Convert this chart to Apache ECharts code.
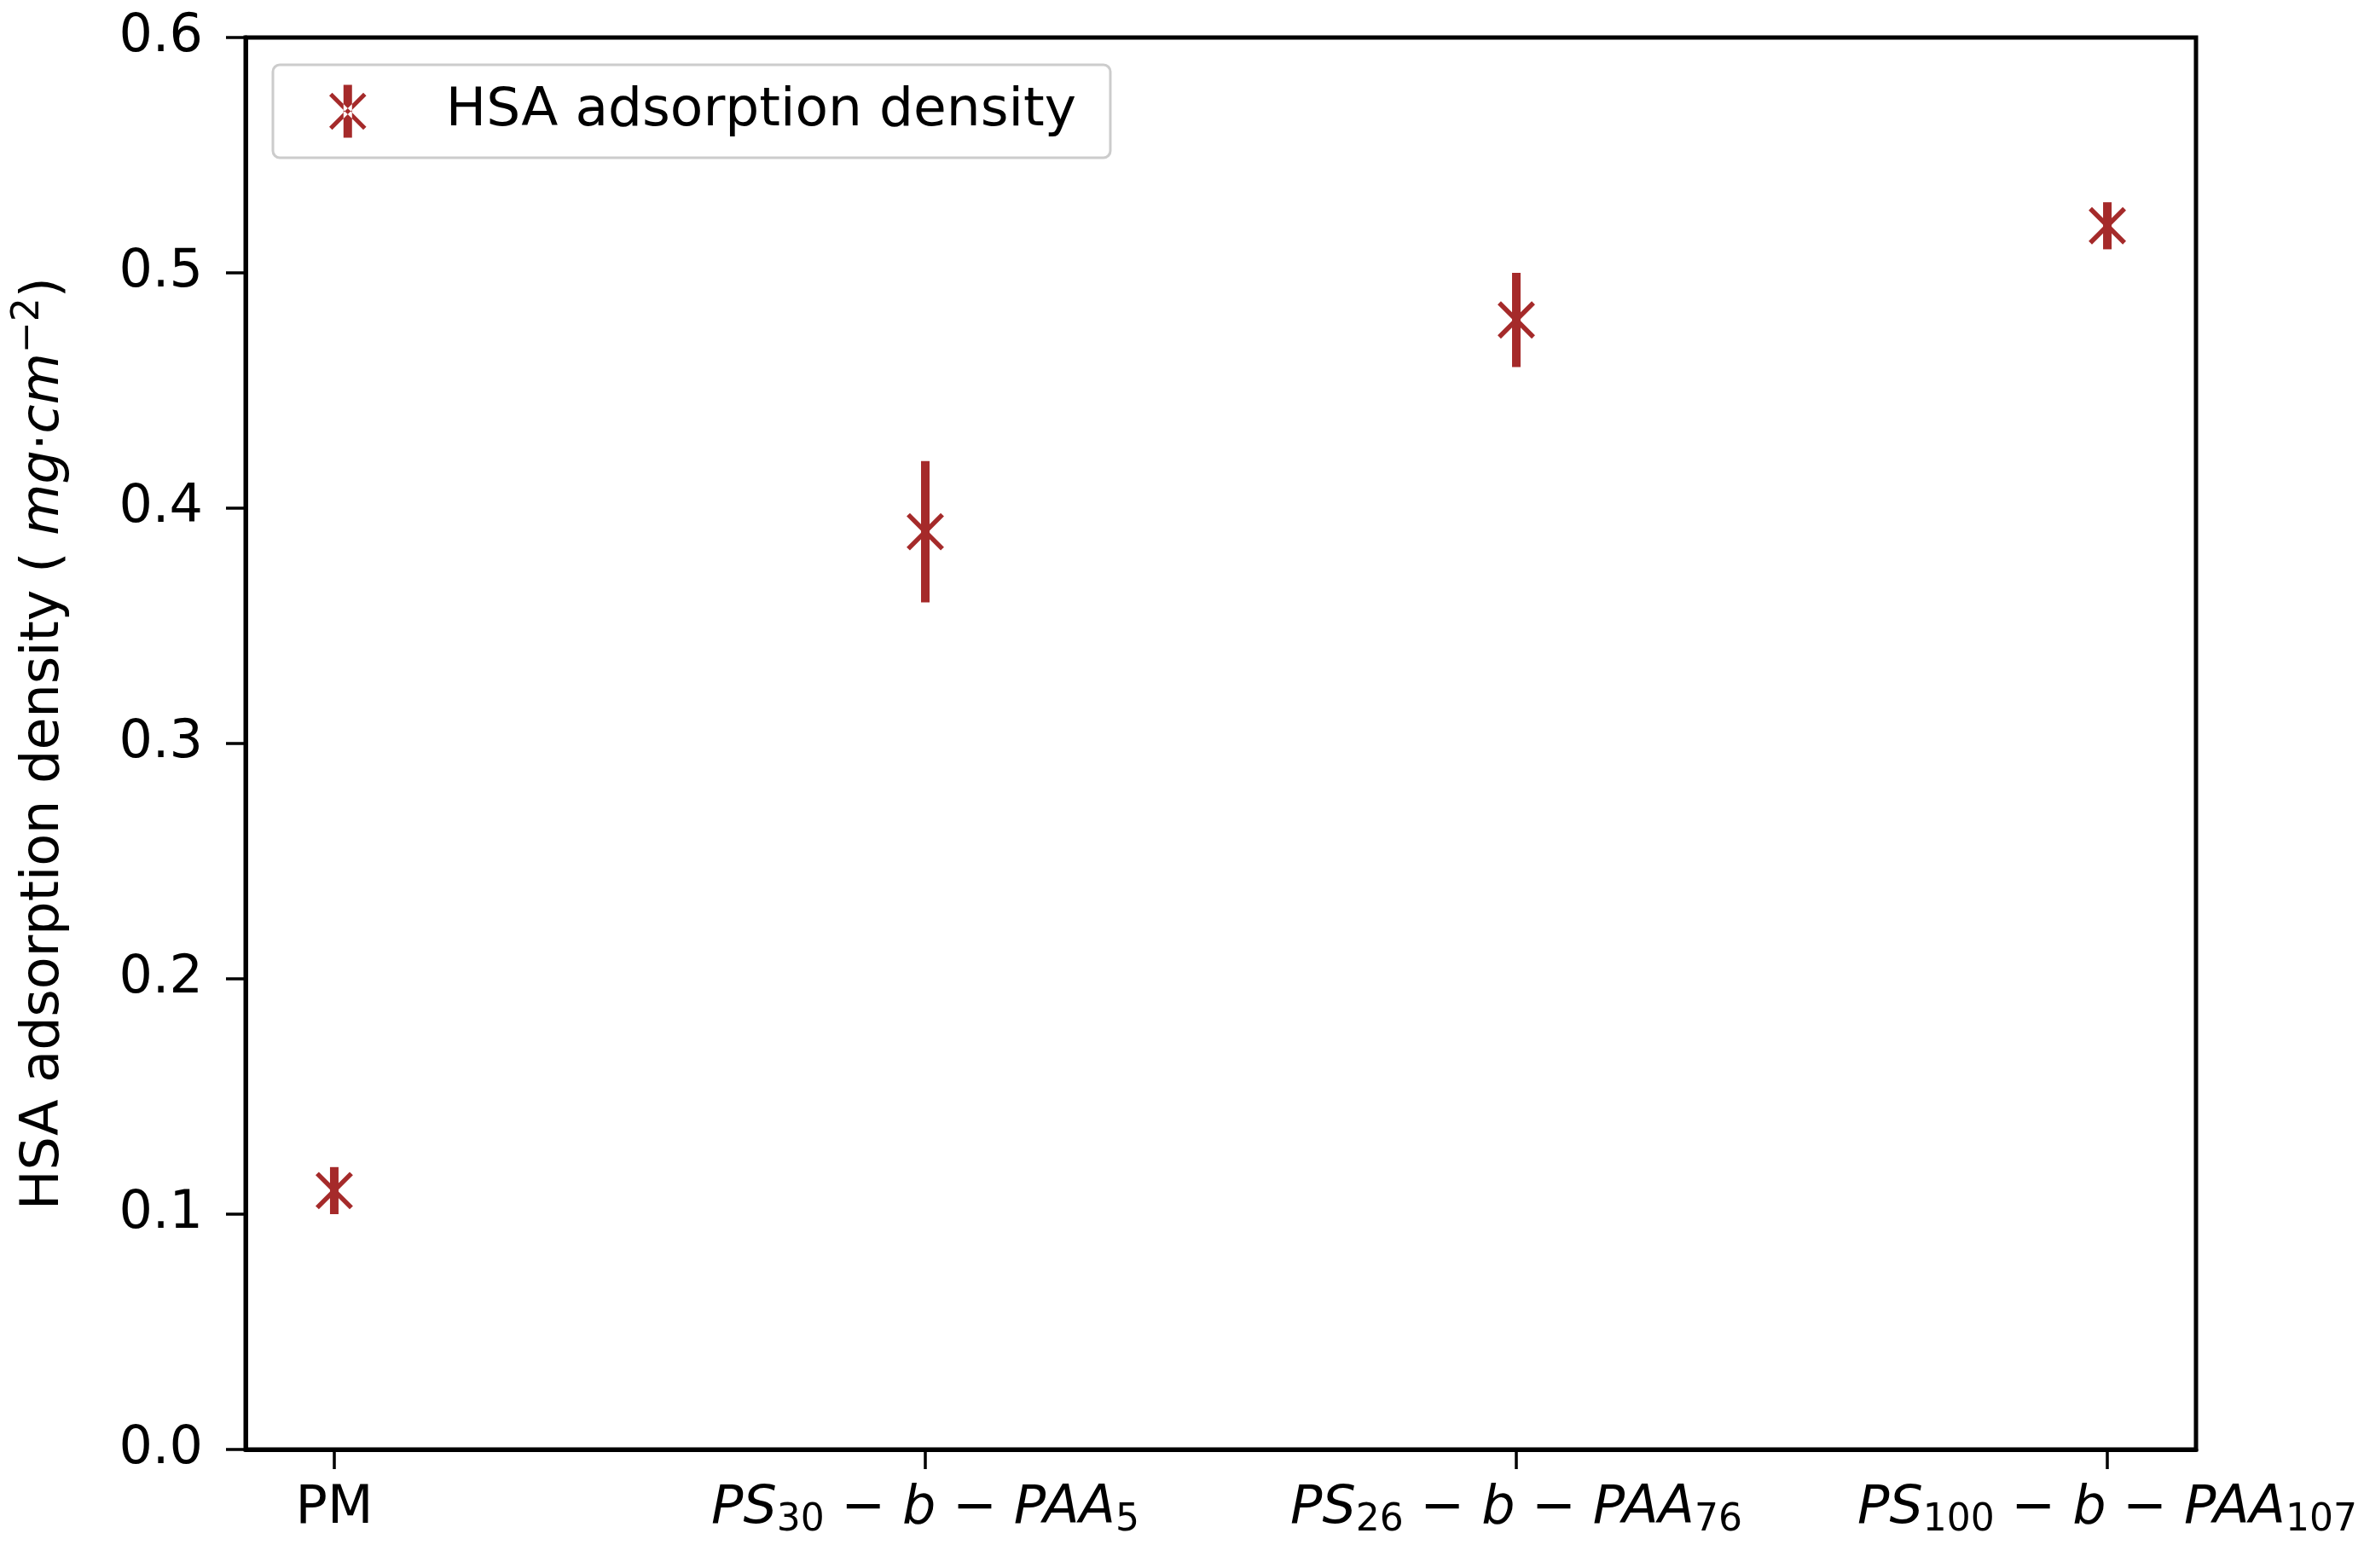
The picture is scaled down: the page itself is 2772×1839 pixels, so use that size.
<!DOCTYPE html>
<html>
<head>
<meta charset="utf-8">
<script src="https://cdn.jsdelivr.net/npm/echarts@6/dist/echarts.min.js"></script>
<style>
html,body{margin:0;padding:0;background:#fff;}
#c{width:2772px;height:1839px;}
</style>
</head>
<body>
<div id="c"></div>
<script>
// ---- data ----
var categories = ['PM', 'PS30-b-PAA5', 'PS26-b-PAA76', 'PS100-b-PAA107'];
var categoryLabels = [
  '{rm|PM}',
  '{it|PS}{sub|30}{rm| − }{it|b}{rm| − }{it|PAA}{sub|5}',
  '{it|PS}{sub|26}{rm| − }{it|b}{rm| − }{it|PAA}{sub|76}',
  '{it|PS}{sub|100}{rm| − }{it|b}{rm| − }{it|PAA}{sub|107}'
];
var density = [0.11, 0.39, 0.48, 0.52];
var densityErr = [0.01, 0.03, 0.02, 0.01];
var yTicks = [0, 0.1, 0.2, 0.3, 0.4, 0.5, 0.6];
var seriesName = 'HSA adsorption density';

var COLOR = '#a52a2a';
var FONT = 'DejaVu Sans';
var FS = 62;

// legend icon path: X with vertical bar (filled polygons)
function strokePoly(x1, y1, x2, y2, w) {
  var dx = x2 - x1, dy = y2 - y1, l = Math.sqrt(dx*dx + dy*dy);
  var px = -dy / l * w / 2, py = dx / l * w / 2;
  return 'M' + (x1+px) + ',' + (y1+py) + 'L' + (x2+px) + ',' + (y2+py) +
         'L' + (x2-px) + ',' + (y2-py) + 'L' + (x1-px) + ',' + (y1-py) + 'Z';
}
var iconPath = 'path://' +
  'M17,0L27,0L27,62L17,62Z' +
  strokePoly(2, 11, 42, 51, 5) + strokePoly(42, 11, 2, 51, 5);

var data = density.map(function (v, i) { return [i, v, densityErr[i]]; });

var chart = echarts.init(document.getElementById('c'), null, {renderer: 'canvas'});
chart.setOption({
  animation: false,
  backgroundColor: '#fff',
  textStyle: {fontFamily: FONT},
  grid: {
    left: 288, right: 197, top: 44, bottom: 139,
    show: true, borderColor: '#000', borderWidth: 5, backgroundColor: 'transparent',
    containLabel: false
  },
  legend: {
    left: 320, top: 76,
    orient: 'horizontal',
    data: [{name: seriesName, icon: iconPath}],
    itemWidth: 44, itemHeight: 62,
    padding: [23, 40, 23, 66],
    backgroundColor: 'rgba(255,255,255,0.8)',
    borderColor: '#cccccc', borderWidth: 3, borderRadius: 8,
    itemStyle: {color: COLOR},
    formatter: function (n) { return '{g|}{t|' + n + '}'; },
    textStyle: {
      rich: {
        g: {width: 88},
        t: {fontFamily: FONT, fontSize: 63, color: '#000'}
      }
    }
  },
  xAxis: {
    type: 'value',
    min: -0.15, max: 3.15,
    splitLine: {show: false},
    axisLine: {show: true, onZero: false, lineStyle: {color: '#000', width: 5}},
    axisTick: {show: true, customValues: [0, 1, 2, 3], length: 23, inside: false,
               lineStyle: {color: '#000', width: 3.5}},
    axisLabel: {
      customValues: [0, 1, 2, 3],
      margin: 34,
      formatter: function (v) { return categoryLabels[Math.round(v)]; },
      rich: {
        rm: {fontFamily: FONT, fontSize: FS, color: '#000', lineHeight: 72},
        it: {fontFamily: FONT, fontSize: FS, fontStyle: 'italic', color: '#000', lineHeight: 72},
        sub: {fontFamily: FONT, fontSize: 44, color: '#000', lineHeight: 44, verticalAlign: 'bottom'}
      }
    }
  },
  yAxis: {
    type: 'value',
    min: 0, max: 0.6, interval: 0.1,
    splitLine: {show: false},
    axisLine: {show: true, onZero: false, lineStyle: {color: '#000', width: 5}},
    axisTick: {show: true, length: 23, lineStyle: {color: '#000', width: 3.5}},
    axisLabel: {
      margin: 50,
      fontFamily: FONT, fontSize: FS, color: '#000',
      formatter: function (v) { return v.toFixed(1); }
    },
    name: '{n|HSA adsorption density ( }{it|mg}{n|·}{it|cm}{sup|−2}{n|)}',
    nameLocation: 'middle',
    nameGap: 196,
    nameRotate: 90,
    nameTextStyle: {
      rich: {
        n: {fontFamily: FONT, fontSize: FS, color: '#000', lineHeight: 80},
        it: {fontFamily: FONT, fontSize: FS, fontStyle: 'italic', color: '#000', lineHeight: 80},
        sup: {fontFamily: FONT, fontSize: 44, color: '#000', lineHeight: 44, verticalAlign: 'top'}
      }
    }
  },
  series: [{
    type: 'custom',
    name: seriesName,
    data: data,
    itemStyle: {color: COLOR},
    encode: {x: 0, y: 1},
    renderItem: function (params, api) {
      var x = api.value(0), y = api.value(1), e = api.value(2);
      var c = api.coord([x, y]);
      var top = api.coord([x, y + e]);
      var bot = api.coord([x, y - e]);
      var h = 20;
      return {
        type: 'group',
        children: [
          {type: 'line', shape: {x1: top[0], y1: top[1], x2: bot[0], y2: bot[1]},
           style: {stroke: COLOR, lineWidth: 10}},
          {type: 'line', shape: {x1: c[0]-h, y1: c[1]-h, x2: c[0]+h, y2: c[1]+h},
           style: {stroke: COLOR, lineWidth: 5.5}},
          {type: 'line', shape: {x1: c[0]+h, y1: c[1]-h, x2: c[0]-h, y2: c[1]+h},
           style: {stroke: COLOR, lineWidth: 5.5}}
        ]
      };
    }
  }]
});
</script>
</body>
</html>
